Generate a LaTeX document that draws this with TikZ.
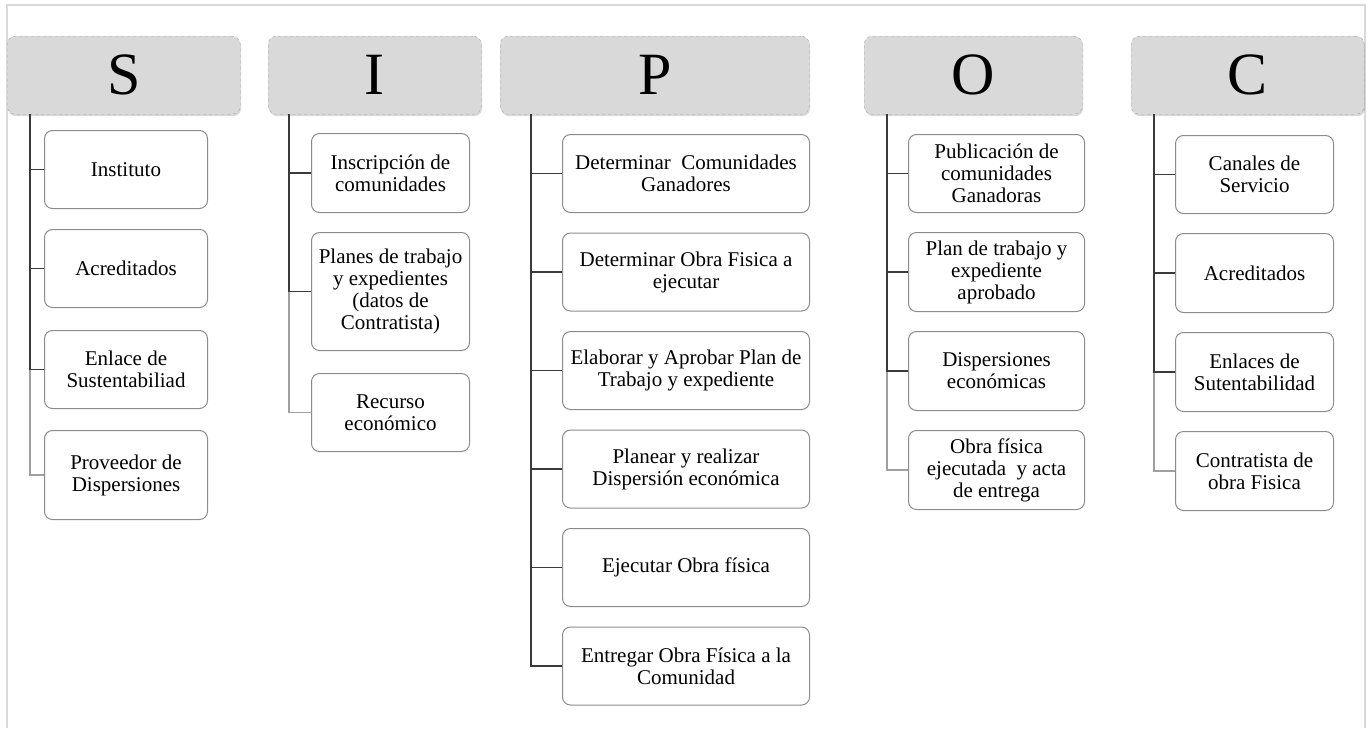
\documentclass[tikz,border=0pt]{standalone}
\usepackage{fontspec}
\setmainfont{Liberation Serif}
\usetikzlibrary{positioning,shadows}

\definecolor{headfill}{HTML}{D9D9D9}
\definecolor{headline}{HTML}{A6A6A6}
\definecolor{boxline}{HTML}{8C8C8C}
\definecolor{linkdark}{HTML}{3A3A3A}
\definecolor{linklight}{HTML}{A0A0A0}
\definecolor{frameline}{HTML}{D9D9D9}

\tikzset{
	head/.style={draw=headline, dashed, fill=headfill, rounded corners=8pt,
		inner sep=0pt, anchor=north west, minimum height=78pt,
		font=\fontsize{60}{60}\selectfont,
		drop shadow={opacity=0.3, shadow xshift=1pt, shadow yshift=-2pt}},
	item/.style={draw=boxline, line width=1pt, fill=white, rounded corners=8pt,
		inner sep=0pt, align=center, minimum height=78pt,
		font=\fontsize{21}{22}\selectfont},
	link/.style={draw=linkdark, line width=1.8pt},
	lastlink/.style={draw=linklight, line width=1.8pt}
}

\begin{document}
\begin{tikzpicture}[x=1pt, y=-1pt, node distance=20pt]
	\useasboundingbox (0,0) rectangle (1372,728);
	\draw[frameline, line width=1.5pt] (7,728) -- (7,5) -- (1365,5) -- (1365,728);
	
	% headers
	\node[head, minimum width=233pt] (hS) at (7,36) {S};
	\node[head, minimum width=213pt] (hI) at (268,36) {I};
	\node[head, minimum width=309pt] (hP) at (500,36) {P};
	\node[head, minimum width=218pt] (hO) at (864,36) {O};
	\node[head, minimum width=233pt] (hC) at (1131,36) {C};
	
	% S
	\node[item, anchor=north west, minimum width=163pt] (s1) at (44,130) {Instituto};
	\node[item, below=of s1, minimum width=163pt] (s2) {Acreditados};
	\node[item, below=22pt of s2, minimum width=163pt] (s3) {Enlace de\\Sustentabiliad};
	\node[item, below=21pt of s3, minimum width=163pt, minimum height=89pt] (s4) {Proveedor de\\Dispersiones};
	
	% I
	\node[item, anchor=north west, minimum width=158pt, minimum height=79pt] (i1) at (311,133) {Inscripción de\\comunidades};
	\node[item, below=19pt of i1, minimum width=158pt, minimum height=118pt] (i2) {Planes de trabajo\\y expedientes\\(datos de\\Contratista)};
	\node[item, below=22pt of i2, minimum width=158pt] (i3) {Recurso\\económico};
	
	% P
	\node[item, anchor=north west, minimum width=247pt] (p1) at (562,134) {Determinar~~Comunidades\\Ganadores};
	\node[item, below=19.5pt of p1, minimum width=247pt] (p2) {Determinar Obra Fisica a\\ejecutar};
	\node[item, below=19.5pt of p2, minimum width=247pt] (p3) {Elaborar y Aprobar Plan de\\Trabajo y expediente};
	\node[item, below=19.5pt of p3, minimum width=247pt] (p4) {Planear y realizar\\Dispersión económica};
	\node[item, below=19.5pt of p4, minimum width=247pt] (p5) {Ejecutar Obra física};
	\node[item, below=19.5pt of p5, minimum width=247pt] (p6) {Entregar Obra Física a la\\Comunidad};
	
	% O
	\node[item, anchor=north west, minimum width=176pt] (o1) at (908,134) {Publicación de\\comunidades\\Ganadoras};
	\node[item, below=19pt of o1, minimum width=176pt, minimum height=79pt] (o2) {Plan de trabajo y\\expediente\\aprobado};
	\node[item, below=19pt of o2, minimum width=176pt, minimum height=79pt] (o3) {Dispersiones\\económicas};
	\node[item, below=19pt of o3, minimum width=176pt, minimum height=79pt] (o4) {Obra física\\ejecutada~~y acta\\de entrega};
	
	% C
	\node[item, anchor=north west, minimum width=158pt] (c1) at (1175,135) {Canales de\\Servicio};
	\node[item, below=19pt of c1, minimum width=158pt, minimum height=79pt] (c2) {Acreditados};
	\node[item, below=19pt of c2, minimum width=158pt, minimum height=79pt] (c3) {Enlaces de\\Sutentabilidad};
	\node[item, below=19pt of c3, minimum width=158pt, minimum height=79pt] (c4) {Contratista de\\obra Fisica};
	
	% links
	\draw[lastlink] ([xshift=23pt]hS.south west) |- (s4.west);
	\draw[link] ([xshift=23pt]hS.south west) |- (s1.west);
	\draw[link] ([xshift=23pt]hS.south west) |- (s2.west);
	\draw[link] ([xshift=23pt]hS.south west) |- (s3.west);
	
	\draw[lastlink] ([xshift=21pt]hI.south west) |- (i3.west);
	\draw[link] ([xshift=21pt]hI.south west) |- (i1.west);
	\draw[link] ([xshift=21pt]hI.south west) |- (i2.west);
	
	\draw[link] ([xshift=31pt]hP.south west) |- (p6.west);
	\draw[link] ([xshift=31pt]hP.south west) |- (p1.west);
	\draw[link] ([xshift=31pt]hP.south west) |- (p2.west);
	\draw[link] ([xshift=31pt]hP.south west) |- (p3.west);
	\draw[link] ([xshift=31pt]hP.south west) |- (p4.west);
	\draw[link] ([xshift=31pt]hP.south west) |- (p5.west);
	
	\draw[lastlink] ([xshift=23pt]hO.south west) |- (o4.west);
	\draw[link] ([xshift=23pt]hO.south west) |- (o1.west);
	\draw[link] ([xshift=23pt]hO.south west) |- (o2.west);
	\draw[link] ([xshift=23pt]hO.south west) |- (o3.west);
	
	\draw[lastlink] ([xshift=23pt]hC.south west) |- (c4.west);
	\draw[link] ([xshift=23pt]hC.south west) |- (c1.west);
	\draw[link] ([xshift=23pt]hC.south west) |- (c2.west);
	\draw[link] ([xshift=23pt]hC.south west) |- (c3.west);
	
\end{tikzpicture}
\end{document}
